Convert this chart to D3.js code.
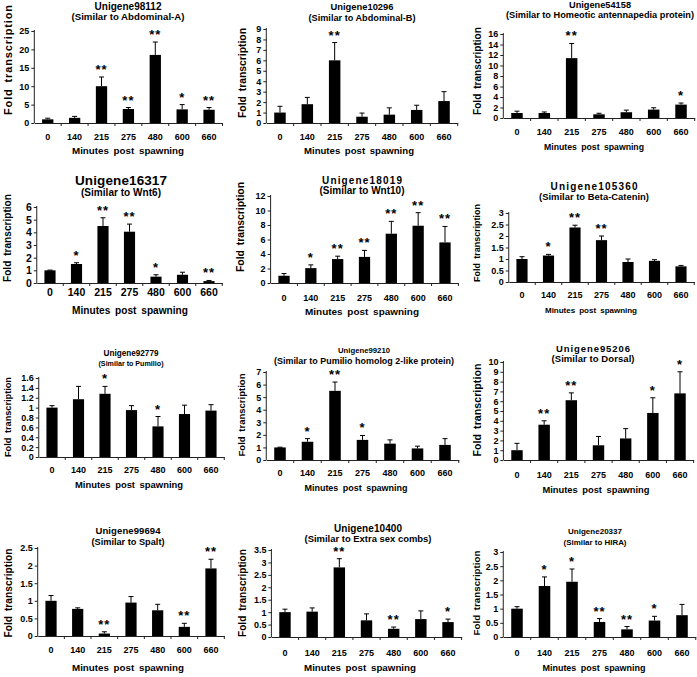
<!DOCTYPE html>
<html><head><meta charset="utf-8">
<script src="https://cdn.jsdelivr.net/npm/d3@7"></script>
<style>
body{margin:0;background:#fff}
text{font-family:"Liberation Sans",Arial,sans-serif;font-weight:bold;fill:#000}
</style>
</head><body>
<svg id="c" width="697" height="677"></svg>
<script>
// ---------- data ----------
const categories = ["0","140","215","275","480","600","660"];
const titleLine1 = ["Unigene98112","Unigene10296","Unigene54158","Unigene16317","Unigene18019","Unigene105360",
  "Unigene92779","Unigene99210","Unigene95206","Unigene99694","Unigene10400","Unigene20337"];
const titleLine2 = ["(Similar to Abdominal-A)","(Similar to Abdominal-B)","(Similar to Homeotic antennapedia protein)",
  "(Similar to Wnt6)","(Similar to Wnt10)","(Similar to Beta-Catenin)","(Similar to Pumilio)",
  "(Similar to Pumilio homolog 2-like protein)","(Similar to Dorsal)","(Similar to Spalt)",
  "(Similar to Extra sex combs)","(Similar to HIRA)"];
const yMax  = [25, 9, 16, 6, 12, 3, 1.6, 7, 10, 2.5, 3.5, 3];
const yStep = [5, 1, 2, 1, 2, 0.5, 0.2, 1, 1, 0.5, 0.5, 0.5];
const means = [
  [1.0,1.4,10.0,3.8,18.5,3.7,3.6],
  [1.0,1.8,6.0,0.6,0.8,1.25,2.1],
  [0.95,0.95,11.4,0.7,1.1,1.6,2.55],
  [1.0,1.5,4.5,4.05,0.5,0.65,0.15],
  [1.0,2.05,3.3,3.6,6.8,7.9,5.6],
  [1.0,1.15,2.37,1.82,0.87,0.92,0.68],
  [1.0,1.17,1.28,0.95,0.62,0.87,0.94],
  [1.0,1.45,5.5,1.6,1.3,0.92,1.2],
  [1.0,3.6,6.1,1.5,2.2,4.8,6.8],
  [1.0,0.77,0.07,0.95,0.73,0.26,1.92],
  [1.0,1.02,2.8,0.67,0.33,0.72,0.6],
  [1.0,1.8,1.95,0.53,0.27,0.58,0.77]
];
const errors = [
  [0.3,0.4,2.5,0.4,3.5,1.3,0.6],
  [0.6,0.65,1.7,0.35,0.65,0.45,0.9],
  [0.35,0.2,2.8,0.2,0.4,0.35,0.3],
  [0.02,0.1,0.65,0.6,0.15,0.2,0.05],
  [0.3,0.45,0.4,0.9,1.7,1.8,2.2],
  [0.1,0.05,0.1,0.18,0.13,0.05,0.04],
  [0.04,0.26,0.15,0.09,0.2,0.18,0.12],
  [0.02,0.25,0.7,0.35,0.3,0.18,0.5],
  [0.7,0.4,0.75,0.9,1.0,1.55,2.2],
  [0.15,0.03,0.05,0.17,0.17,0.1,0.26],
  [0.12,0.15,0.35,0.26,0.07,0.33,0.12],
  [0.07,0.32,0.45,0.12,0.1,0.15,0.38]
];
const stars = [
  ["","","**","**","**","*","**"],
  ["","","**","","","",""],
  ["","","**","","","","*"],
  ["","*","**","**","*","","**"],
  ["","*","**","**","**","**","**"],
  ["","*","**","**","","",""],
  ["","","*","","*","",""],
  ["","*","**","*","","",""],
  ["","**","**","","","*","*"],
  ["","","**","","","**","**"],
  ["","","**","","**","","*"],
  ["","*","*","**","**","*",""]
];
const xTitle = "Minutes post spawning";
const yTitle = "Fold transcription";

// ---------- layout (positions only) ----------
const layout = [
 {xr:[34.3,222.5],T:31,B:123,cx:128,t1:6,t2:17,w1:67,w2:113,tickY:137,xtx:128,xty:151,xtw:112,ytx:8,yty:60,ytw:110,fs:9,tf:10},
 {xr:[266.3,457.7],T:29,B:123,cx:362,t1:7,t2:18,w1:63,w2:107,tickY:137,xtx:359,xty:151,xtw:110,ytx:242,yty:73,ytw:90,fs:9,tf:10},
 {xr:[503.3,694.7],T:34,B:118,cx:600,t1:5,t2:15,w1:62,w2:188,tickY:132,xtx:594,xty:147,xtw:100,ytx:477,yty:71,ytw:88,fs:9,tf:9.5},
 {xr:[36.75,222.25],T:207,B:283,cx:121,t1:180,t2:192,w1:92,w2:80,tickY:292,xtx:130,xty:310,xtw:116,ytx:7,yty:238,ytw:88,fs:10.5,tf:13.5},
 {xr:[270.6,458.4],T:196,B:283,cx:362,t1:180,t2:191,w1:80,w2:85,tickY:298,xtx:362,xty:312,xtw:114,ytx:240,yty:227,ytw:90,fs:9,tf:10},
 {xr:[508.75,694.25],T:213,B:282,cx:594,t1:186,t2:197,w1:87,w2:110,tickY:295,xtx:591,xty:310,xtw:92,ytx:477,yty:243,ytw:78,fs:9,tf:10},
 {xr:[38.75,224.25],T:378,B:457,cx:131,t1:353,t2:364,w1:55,w2:65,tickY:470,xtx:129,xty:485,xtw:108,ytx:8,yty:417,ytw:80,fs:9,tf:8.5},
 {xr:[266.25,458.75],T:372,B:460,cx:364,t1:350,t2:361,w1:52,w2:180,tickY:473,xtx:356,xty:488,xtw:103,ytx:242,yty:415,ytw:83,fs:9,tf:9},
 {xr:[503.4,693.6],T:362,B:460,cx:593,t1:349,t2:359,w1:74,w2:83,tickY:475,xtx:596,xty:490,xtw:107,ytx:477,yty:410,ytw:93,fs:9,tf:9.5},
 {xr:[37.7,224.3],T:548,B:636,cx:128,t1:531,t2:542,w1:65,w2:73,tickY:650,xtx:128,xty:668,xtw:112,ytx:8,yty:593,ytw:89,fs:9,tf:9.5},
 {xr:[271.4,461.6],T:550,B:637,cx:368,t1:528,t2:539,w1:68,w2:127,tickY:653,xtx:360,xty:668,xtw:112,ytx:242,yty:593,ytw:88,fs:9,tf:10},
 {xr:[503.25,695.75],T:552,B:637,cx:595,t1:531,t2:542,w1:54,w2:63,tickY:653,xtx:594,xty:668,xtw:103,ytx:477,yty:593,ytw:85,fs:9,tf:8.5}
];

const svg = d3.select("#c");

// fit a text to a target width: scale font (capped), then adjust letter spacing to reach the width
function fit(t, target, maxFs){
  const fs = parseFloat(t.attr("font-size"));
  const w = t.node().getComputedTextLength();
  let nf = Math.min(maxFs, fs * target / w);
  t.attr("font-size", nf);
  t.attr("textLength", target).attr("lengthAdjust","spacing");
}

function draw(){
layout.forEach((L, i) => {
  const g = svg.append("g");
  const x = d3.scaleBand().domain(categories).range(L.xr).padding(0);
  const y = d3.scaleLinear().domain([0, yMax[i]]).range([L.B, L.T]);
  const bw = x.step() * 0.42;
  const ticks = d3.range(0, yMax[i] + yStep[i]/2, yStep[i]);

  // y axis
  const yAx = g.append("g").attr("transform", `translate(${L.xr[0]},0)`)
    .call(d3.axisLeft(y).tickValues(ticks).tickSize(3).tickPadding(2).tickFormat(d => +d.toFixed(2)));
  yAx.select(".domain").attr("stroke","#222").attr("d", `M0,${L.T-1}V${L.B}`);
  yAx.selectAll(".tick line").attr("stroke","#222");
  yAx.selectAll(".tick text").attr("font-size", L.fs).attr("font-family",null);

  // x axis
  const xAx = g.append("g").attr("transform", `translate(0,${L.B})`)
    .call(d3.axisBottom(x).tickSize(0).tickPadding(0));
  xAx.select(".domain").attr("stroke","#222");
  xAx.selectAll(".tick text").attr("font-size", L.fs).attr("font-family",null)
    .attr("y", L.tickY - L.B).attr("dy","0.35em");
  g.selectAll("line.xt").data(categories.slice(1).concat(["__end"])).enter().append("line")
    .attr("x1", d => d === "__end" ? L.xr[1] : x(d)).attr("x2", d => d === "__end" ? L.xr[1] : x(d))
    .attr("y1", L.B).attr("y2", L.B + 3).attr("stroke","#222");

  // bars
  g.selectAll("rect.bar").data(means[i]).enter().append("rect")
    .attr("x", (d, j) => x(categories[j]) + x.bandwidth()/2 - bw/2)
    .attr("width", bw)
    .attr("y", d => y(d))
    .attr("height", d => y(0) - y(d))
    .attr("fill","#000");

  // error bars
  const eg = g.selectAll("g.err").data(means[i]).enter().append("g");
  eg.append("line")
    .attr("x1", (d, j) => x(categories[j]) + x.bandwidth()/2)
    .attr("x2", (d, j) => x(categories[j]) + x.bandwidth()/2)
    .attr("y1", d => y(d))
    .attr("y2", (d, j) => y(d + errors[i][j]))
    .attr("stroke","#000").attr("stroke-width",1);
  eg.append("line")
    .attr("x1", (d, j) => x(categories[j]) + x.bandwidth()/2 - 2.5)
    .attr("x2", (d, j) => x(categories[j]) + x.bandwidth()/2 + 2.5)
    .attr("y1", (d, j) => y(d + errors[i][j]))
    .attr("y2", (d, j) => y(d + errors[i][j]))
    .attr("stroke","#000").attr("stroke-width",1);

  // significance stars
  g.selectAll("text.star").data(stars[i]).enter().append("text")
    .attr("x", (d, j) => x(categories[j]) + x.bandwidth()/2)
    .attr("y", (d, j) => y(means[i][j] + errors[i][j]) - 3)
    .attr("text-anchor","middle").attr("font-size", 13).attr("letter-spacing", 1)
    .text(d => d);

  // titles
  const t1 = g.append("text").attr("x", L.cx).attr("y", L.t1).attr("dy","0.35em")
    .attr("text-anchor","middle").attr("font-size",10).text(titleLine1[i]);
  fit(t1, L.w1, L.tf);
  const t2 = g.append("text").attr("x", L.cx).attr("y", L.t2).attr("dy","0.35em")
    .attr("text-anchor","middle").attr("font-size",10).text(titleLine2[i]);
  fit(t2, L.w2, i === 3 ? 12 : L.tf);

  // axis titles
  const xt = g.append("text").attr("x", L.xtx).attr("y", L.xty).attr("dy","0.35em")
    .attr("text-anchor","middle").attr("font-size",10).attr("word-spacing",2).text(xTitle);
  fit(xt, L.xtw, i === 3 ? 12.5 : 10.5);
  const yt = g.append("text").attr("transform", `translate(${L.ytx},${L.yty}) rotate(-90)`)
    .attr("dy","0.35em").attr("text-anchor","middle").attr("font-size",10).attr("word-spacing",2).text(yTitle);
  fit(yt, L.ytw, i === 3 ? 12 : 11);
});
}

// measure text only once the font is ready
svg.append("text").attr("font-size",10).text("Unigene98112 Fold transcription").attr("opacity",0)
  .each(function(){ this.getComputedTextLength(); }).remove();
if (document.fonts && document.fonts.load) {
  document.fonts.load('bold 10px "Liberation Sans"').then(draw, draw);
} else draw();
</script>
</body></html>
